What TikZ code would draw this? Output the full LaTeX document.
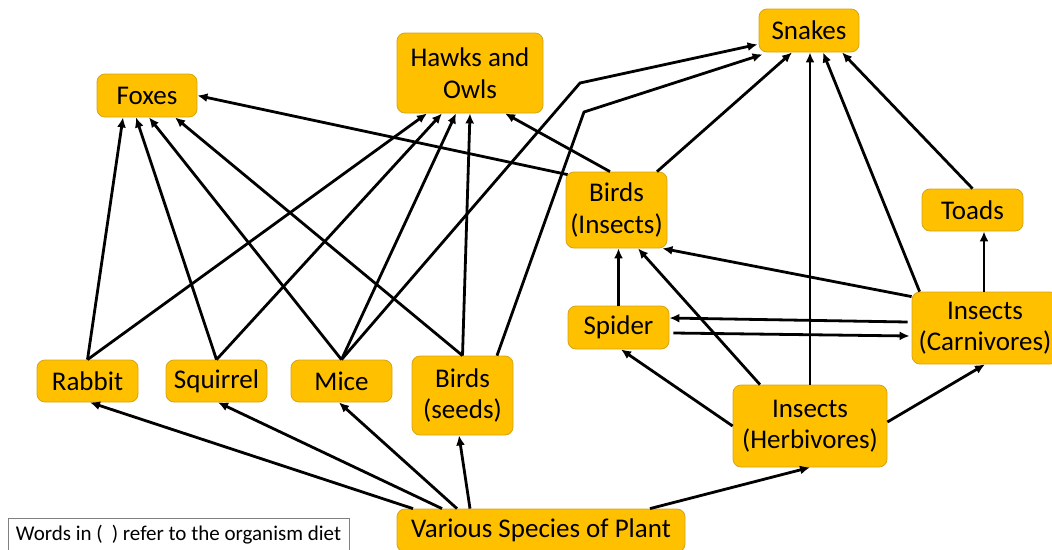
\documentclass[tikz,border=0pt]{standalone}
\usepackage{fontspec}
\setmainfont{Carlito}
\usepackage{xcolor}
\usetikzlibrary{arrows.meta}

\definecolor{orgfill}{RGB}{255,192,0}
\definecolor{orgedge}{RGB}{214,164,20}

\tikzset{
  org/.style={draw=orgedge,fill=orgfill,line width=0.8pt,rounded corners=8pt,
    align=center,inner sep=0pt,font=\fontsize{27}{31.5}\selectfont},
  eat/.style={-{Latex[length=10pt,width=9pt]},line width=2.8pt}
}

\begin{document}
\begin{tikzpicture}[x=1pt,y=-1pt]
  \useasboundingbox (0,0) rectangle (1052,549);
  \node (fox) [org,minimum width=100pt,minimum height=43pt] at (147,95.5) {Foxes};
  \node (hwk) [org,minimum width=146pt,minimum height=80pt] at (470,73) {Hawks and\\Owls};
  \node (snk) [org,minimum width=100pt,minimum height=43pt] at (809,30.5) {Snakes};
  \node (bdi) [org,minimum width=101pt,minimum height=76pt] at (616.5,210) {Birds\\(Insects)};
  \node (tod) [org,minimum width=101pt,minimum height=42pt] at (972.5,210) {Toads};
  \node (rab) [org,minimum width=101pt,minimum height=42pt] at (87.5,381) {Rabbit};
  \node (squ) [org,minimum width=101pt,minimum height=42pt] at (216.5,381) {Squirrel};
  \node (mic) [org,minimum width=101pt,minimum height=42pt] at (341.5,381) {Mice};
  \node (bds) [org,minimum width=101pt,minimum height=79pt] at (462.5,395.5) {Birds\\(seeds)};
  \node (spd) [org,minimum width=101pt,minimum height=43pt] at (618.5,327.5) {Spider};
  \node (hrb) [org,minimum width=154pt,minimum height=82pt] at (810,426) {Insects\\(Herbivores)};
  \node (crn) [org,minimum width=146pt,minimum height=72pt] at (985,328) {Insects\\(Carnivores)};
  \node (plt) [org,minimum width=288pt,minimum height=43pt] at (541,530.5) {Various Species of Plant};
  \node (note) [draw=gray,line width=0.8pt,minimum width=341pt,minimum height=34pt,inner sep=0pt,
    font=\fontsize{21}{25}\selectfont] at (178.5,535) {Words in (\hspace{9pt}) refer to the organism diet};

  \coordinate (kinkm) at (580,83);
  \coordinate (kinkb) at (584,112);

  \draw[eat] (rab.north) -- ([xshift=-24pt]fox.south);
  \draw[eat] (squ.north) -- ([xshift=-11pt]fox.south);
  \draw[eat] (mic.north) -- ([xshift=2pt]fox.south);
  \draw[eat] (bds.north) -- ([xshift=28pt]fox.south);
  \draw[eat] ([xshift=2pt,yshift=-3pt]bdi.north west) -- (fox.east);

  \draw[eat] (rab.north) -- ([xshift=-43pt]hwk.south);
  \draw[eat] (squ.north) -- ([xshift=-28pt]hwk.south);
  \draw[eat] (mic.north) -- ([xshift=-14pt]hwk.south);
  \draw[eat] (bds.north) -- (hwk.south);
  \draw[eat] ([xshift=-6.5pt]bdi.north) -- ([xshift=35pt]hwk.south);

  \draw[eat] (mic.north) -- (kinkm) -- ([xshift=-1pt,yshift=8pt]snk.south west);
  \draw[eat] ([xshift=34.5pt]bds.north) -- (kinkb) -- ([xshift=4pt,yshift=-2pt]snk.south west);
  \draw[eat] ([xshift=40.5pt]bdi.north) -- ([xshift=-17pt]snk.south);
  \draw[eat] (hrb.north) -- (hrb.north |- snk.south);
  \draw[eat] ([xshift=8pt]crn.north west) -- ([xshift=14pt]snk.south);
  \draw[eat] (tod.north) -- ([xshift=33pt]snk.south);

  \draw[eat] (spd.north) -- (spd.north |- bdi.south);
  \draw[eat] ([xshift=-50pt]hrb.north) -- ([xshift=21.5pt]bdi.south);
  \draw[eat] ([yshift=-5pt]crn.north west) -- ([xshift=-5pt]bdi.south east);
  \draw[eat] ([xshift=-1pt]crn.north) -- ([xshift=11.5pt]tod.south);

  \draw[eat] ([xshift=-4pt,yshift=6pt]crn.west) -- ([yshift=9.5pt]spd.east);
  \draw[eat] ([xshift=4pt,yshift=-5.5pt]spd.east) -- ([xshift=-2pt,yshift=-8pt]crn.west);
  \draw[eat] (hrb.west) -- ([xshift=2.5pt]spd.south);
  \draw[eat] ([yshift=4pt]hrb.east) -- (crn.south);

  \draw[eat] ([xshift=-128pt]plt.north) -- ([xshift=2.5pt]rab.south);
  \draw[eat] ([xshift=-99pt]plt.north) -- ([xshift=1.5pt]squ.south);
  \draw[eat] ([xshift=-84pt]plt.north) -- ([xshift=-2.5pt]mic.south);
  \draw[eat] ([xshift=-71pt]plt.north) -- ([xshift=-3.5pt]bds.south);
  \draw[eat] ([xshift=109pt]plt.north) -- (hrb.south);
\end{tikzpicture}
\end{document}
